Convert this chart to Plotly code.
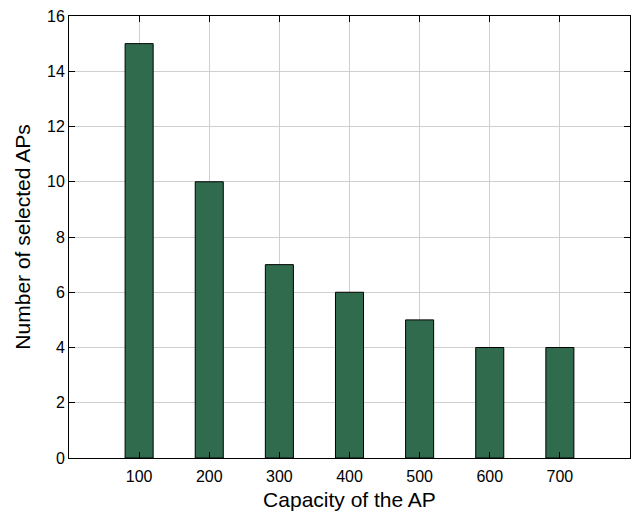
import plotly.graph_objects as go

capacity = [100, 200, 300, 400, 500, 600, 700]
selected_aps = [15, 10, 7, 6, 5, 4, 4]
x_ticks = [100, 200, 300, 400, 500, 600, 700]
y_ticks = [0, 2, 4, 6, 8, 10, 12, 14, 16]

fig = go.Figure()
fig.add_trace(go.Bar(
    x=capacity, y=selected_aps, width=40,
    marker=dict(color="#306B4E", line=dict(color="#000000", width=1)),
))

axis_font = dict(family="Liberation Sans, Arial, sans-serif", size=16, color="#000")
fig.update_layout(
    width=634, height=515,
    margin=dict(l=69, r=4, t=16, b=57),
    plot_bgcolor="white", paper_bgcolor="white",
    showlegend=False,
    font=axis_font,
    xaxis=dict(
        range=[0, 800], tickvals=x_ticks, ticktext=[str(v) for v in x_ticks],
        showgrid=True, gridcolor="#cfcfcf", gridwidth=1,
        showline=True, linecolor="#000", linewidth=1, mirror="ticks",
        ticks="inside", ticklen=6, tickcolor="#000",
        tickfont=dict(size=16), ticklabelstandoff=4,
        title=dict(text="Capacity of the AP", font=dict(size=21), standoff=8),
        zeroline=False,
    ),
    yaxis=dict(
        range=[0, 16], tickvals=y_ticks,
        showgrid=True, gridcolor="#cfcfcf", gridwidth=1,
        showline=True, linecolor="#000", linewidth=1, mirror="ticks",
        ticks="inside", ticklen=6, tickcolor="#000",
        tickfont=dict(size=16),
        title=dict(text="Number of selected APs", font=dict(size=21), standoff=10),
        zeroline=False,
    ),
)

fig.write_html("out.html")
